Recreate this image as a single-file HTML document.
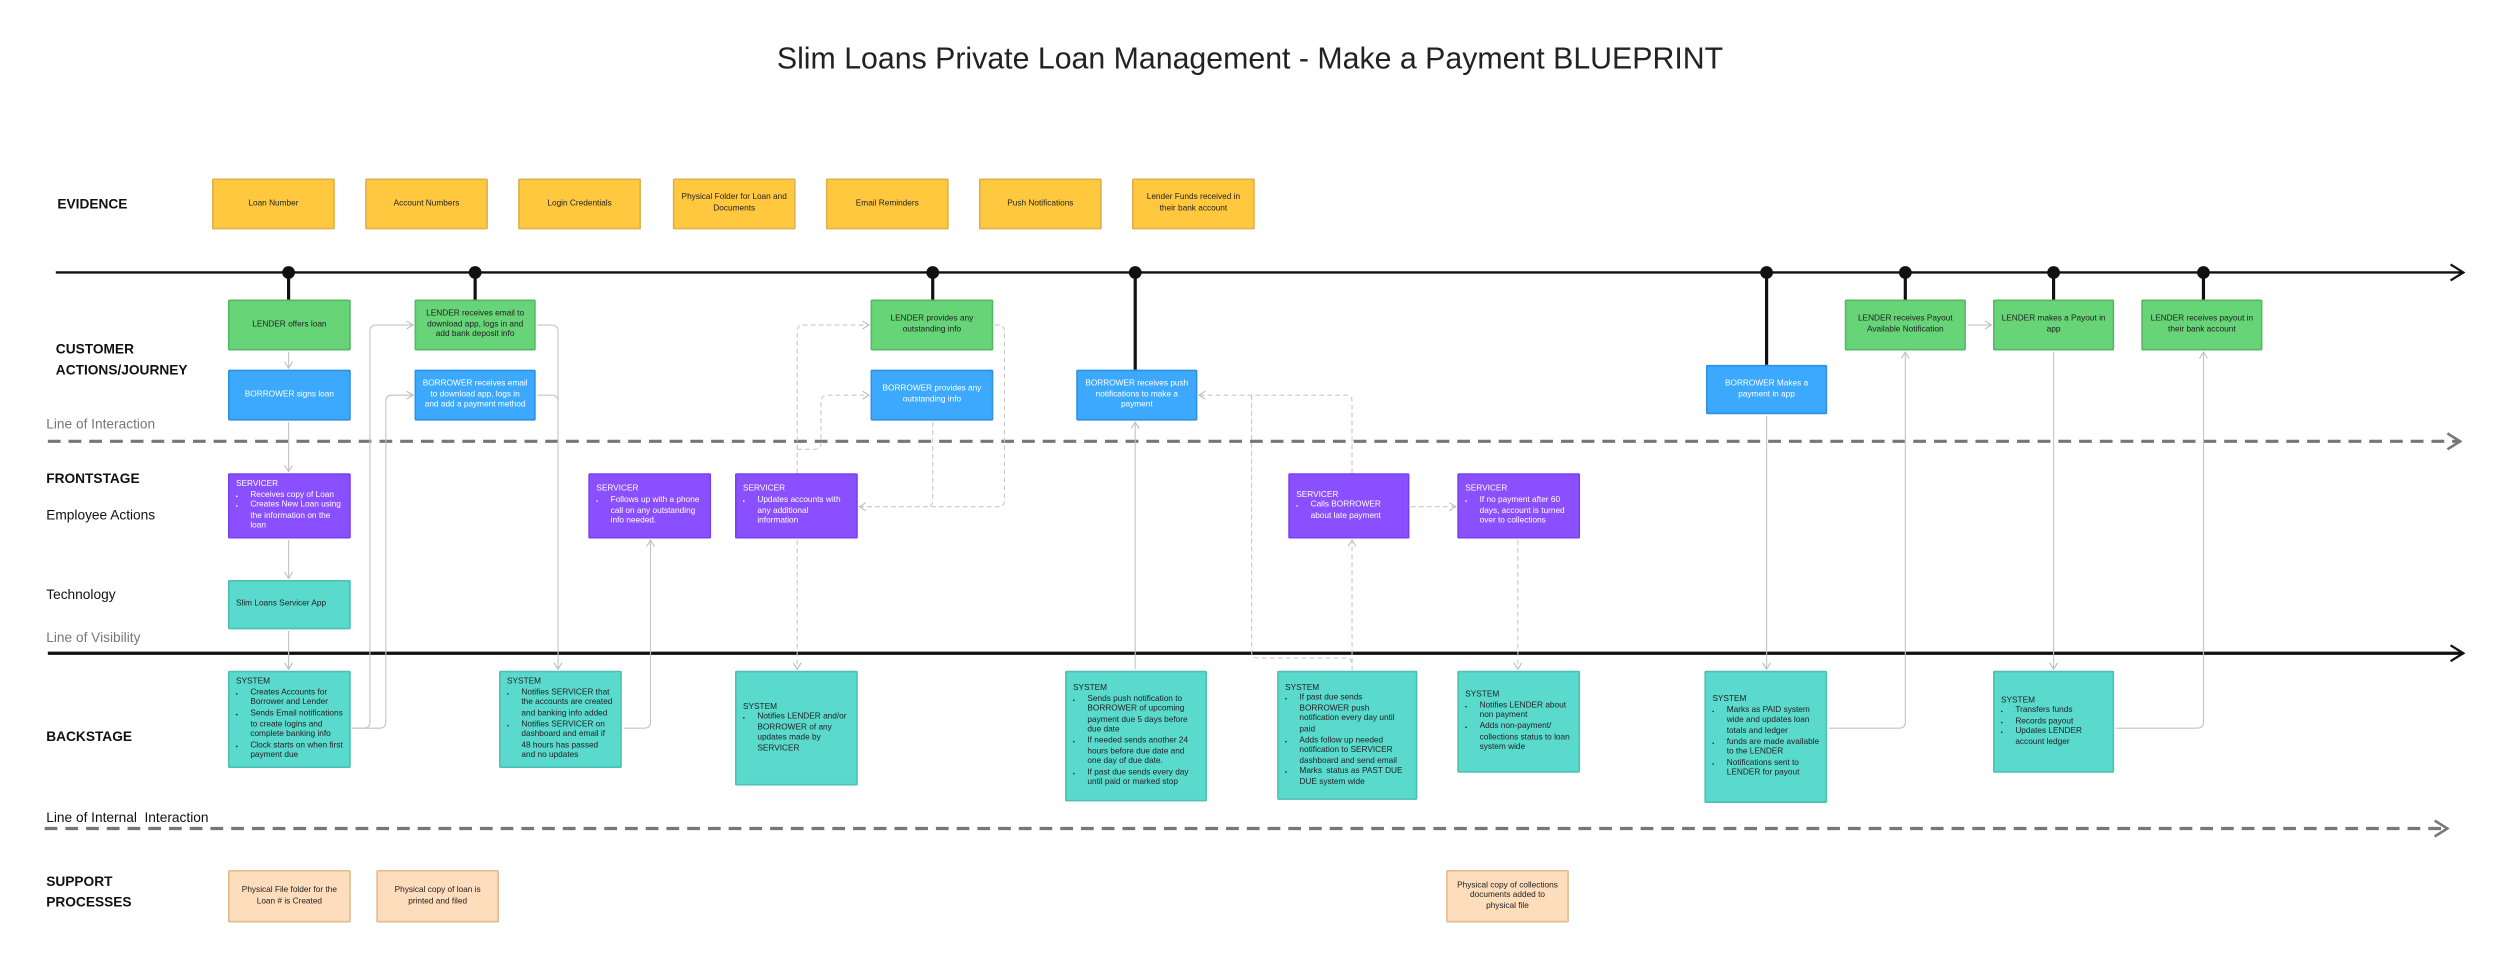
<!DOCTYPE html>
<html><head><meta charset="utf-8"><style>
html,body{margin:0;padding:0;background:#fff;}
body{width:2500px;height:956px;overflow:hidden;position:relative;font-family:"Liberation Sans",sans-serif;}
#w{position:absolute;left:0;top:0;width:1568px;height:600px;transform:scale(1.5944,1.5933);transform-origin:0 0;}
svg{position:absolute;left:0;top:0;}
.b{position:absolute;box-sizing:border-box;display:flex;align-items:center;justify-content:center;text-align:center;font-size:5.2px;line-height:6.6px;padding:2px 4px;border-radius:1px;color:#222;}
.y{background:#FFC83F;border:0.6px solid #ddb04a;}
.g{background:#66D477;border:0.6px solid #55b865;}
.bl{background:#3CA9FF;border:0.6px solid #3090e0;color:#fff;}
.p{background:#8A4FFF;border:0.6px solid #7a40ee;color:#fff;justify-content:flex-start;text-align:left;}
.t{background:#5AD9CD;border:0.6px solid #4cc0b4;justify-content:flex-start;text-align:left;}
.o{background:#FDDDBC;border:0.6px solid #e2bb90;}
.b ul{margin:0;padding-left:9px;}
.b .in{display:block;}
.l{position:absolute;font-size:8.6px;color:#111;white-space:nowrap;}
.lb{font-weight:bold;}
.lg{color:#777;}
</style></head><body><div id="w">
<div class="l" style="left:0;width:1568px;top:27px;text-align:center;font-size:19px;color:#222;">Slim Loans Private Loan Management - Make a Payment BLUEPRINT</div>

<div class="l lb" style="left:36px;top:123px;">EVIDENCE</div>
<div class="l lb" style="left:35px;top:213px;line-height:13px;">CUSTOMER<br>ACTIONS/JOURNEY</div>
<div class="l lg" style="left:29px;top:261px;">Line of Interaction</div>
<div class="l lb" style="left:29px;top:295px;">FRONTSTAGE</div>
<div class="l" style="left:29px;top:318px;">Employee Actions</div>
<div class="l" style="left:29px;top:368px;">Technology</div>
<div class="l lg" style="left:29px;top:395px;">Line of Visibility</div>
<div class="l lb" style="left:29px;top:457px;">BACKSTAGE</div>
<div class="l" style="left:29px;top:508px;">Line of Internal&nbsp; Interaction</div>
<div class="l lb" style="left:29px;top:547px;line-height:13px;">SUPPORT<br>PROCESSES</div>

<svg width="1568" height="600" viewBox="0 0 1568 600">
<defs>
<marker id="a" markerWidth="6" markerHeight="6" refX="5" refY="3" orient="auto" markerUnits="userSpaceOnUse"><path d="M1 0.5 L5 3 L1 5.5" fill="none" stroke="#bdbdbd" stroke-width="0.7"/></marker>
<marker id="k" markerWidth="12" markerHeight="12" refX="10" refY="6" orient="auto" markerUnits="userSpaceOnUse"><path d="M2 1 L10 6 L2 11" fill="none" stroke="#111" stroke-width="1.4"/></marker>
<marker id="d" markerWidth="12" markerHeight="12" refX="10" refY="6" orient="auto" markerUnits="userSpaceOnUse"><path d="M2 1 L10 6 L2 11" fill="none" stroke="#777" stroke-width="1.6"/></marker>
</defs>
<line x1="35" y1="171" x2="1545" y2="171" stroke="#111" stroke-width="1.5" marker-end="url(#k)"/>
<line x1="30" y1="410" x2="1545" y2="410" stroke="#111" stroke-width="2" marker-end="url(#k)"/>
<line x1="30" y1="277" x2="1543" y2="277" stroke="#777" stroke-width="2" stroke-dasharray="8 5" marker-end="url(#d)"/>
<line x1="28" y1="520" x2="1535" y2="520" stroke="#777" stroke-width="2" stroke-dasharray="8 5" marker-end="url(#d)"/>
<g stroke="#111" stroke-width="2">
<line x1="181" y1="171" x2="181" y2="188"/><line x1="298" y1="171" x2="298" y2="188"/>
<line x1="585" y1="171" x2="585" y2="188"/><line x1="712" y1="171" x2="712" y2="232"/>
<line x1="1108" y1="171" x2="1108" y2="229"/><line x1="1195" y1="171" x2="1195" y2="188"/>
<line x1="1288" y1="171" x2="1288" y2="188"/><line x1="1382" y1="171" x2="1382" y2="188"/>
</g>
<g fill="#111">
<circle cx="181" cy="171" r="4"/><circle cx="298" cy="171" r="4"/><circle cx="585" cy="171" r="4"/><circle cx="712" cy="171" r="4"/>
<circle cx="1108" cy="171" r="4"/><circle cx="1195" cy="171" r="4"/><circle cx="1288" cy="171" r="4"/><circle cx="1382" cy="171" r="4"/>
</g>
<g fill="none" stroke="#c4c4c4" stroke-width="0.7">
<path d="M181 221 V231" marker-end="url(#a)"/>
<path d="M181 265 V296" marker-end="url(#a)"/>
<path d="M181 339 V363" marker-end="url(#a)"/>
<path d="M181 396 V420" marker-end="url(#a)"/>
<path d="M221 457 H228 Q232 457 232 453 V208 Q232 204 236 204 H259" marker-end="url(#a)"/>
<path d="M221 457 H238 Q242 457 242 453 V252 Q242 248 246 248 H259" marker-end="url(#a)"/>
<path d="M337 204 H346 Q350 204 350 208 V420" marker-end="url(#a)"/>
<path d="M337 248 H346 Q350 248 350 252"/>
<path d="M391 457 H404 Q408 457 408 453 V339" marker-end="url(#a)"/>
<path d="M712 420 V265" marker-end="url(#a)"/>
<path d="M1108 261 V420" marker-end="url(#a)"/>
<path d="M1147 457 H1191 Q1195 457 1195 453 V221" marker-end="url(#a)"/>
<path d="M1234 204 H1249" marker-end="url(#a)"/>
<path d="M1288 221 V420" marker-end="url(#a)"/>
<path d="M1327 457 H1378 Q1382 457 1382 453 V221" marker-end="url(#a)"/>
</g>
<g fill="none" stroke="#c8c8c8" stroke-width="0.7" stroke-dasharray="3 2">
<path d="M500 297 V208 Q500 204 504 204 H545" marker-end="url(#a)"/>
<path d="M500 282 H511 Q515 282 515 278 V252 Q515 248 519 248 H545" marker-end="url(#a)"/>
<path d="M624 204 H626 Q630 204 630 208 V314 Q630 318 626 318 H539" marker-end="url(#a)"/>
<path d="M585 265 V314 Q585 318 581 318"/>
<path d="M500 339 V420" marker-end="url(#a)"/>
<path d="M848 297 V252 Q848 248 844 248 H752" marker-end="url(#a)"/>
<path d="M785 248 V409 Q785 413 789 413 H844 Q848 413 848 417 V421"/>
<path d="M848 421 V339" marker-end="url(#a)"/>
<path d="M885 318 H913" marker-end="url(#a)"/>
<path d="M952 339 V420" marker-end="url(#a)"/>
</g>
</svg>

<!-- evidence -->
<div class="b y" style="left:133px;top:112px;width:77px;height:32px;">Loan Number</div>
<div class="b y" style="left:229px;top:112px;width:77px;height:32px;">Account Numbers</div>
<div class="b y" style="left:325px;top:112px;width:77px;height:32px;">Login Credentials</div>
<div class="b y" style="left:422px;top:112px;width:77px;height:32px;">Physical Folder for Loan and Documents</div>
<div class="b y" style="left:518px;top:112px;width:77px;height:32px;">Email Reminders</div>
<div class="b y" style="left:614px;top:112px;width:77px;height:32px;">Push Notifications</div>
<div class="b y" style="left:710px;top:112px;width:77px;height:32px;">Lender Funds received in their bank account</div>

<!-- green -->
<div class="b g" style="left:143px;top:188px;width:77px;height:32px;">LENDER offers loan</div>
<div class="b g" style="left:260px;top:188px;width:76px;height:32px;">LENDER receives email to download app, logs in and add bank deposit info</div>
<div class="b g" style="left:546px;top:188px;width:77px;height:32px;">LENDER provides any outstanding info</div>
<div class="b g" style="left:1157px;top:188px;width:76px;height:32px;">LENDER receives Payout Available Notification</div>
<div class="b g" style="left:1250px;top:188px;width:76px;height:32px;">LENDER makes a Payout in app</div>
<div class="b g" style="left:1343px;top:188px;width:76px;height:32px;">LENDER receives payout in their bank account</div>

<!-- blue -->
<div class="b bl" style="left:143px;top:232px;width:77px;height:32px;">BORROWER signs loan</div>
<div class="b bl" style="left:260px;top:232px;width:76px;height:32px;">BORROWER receives email to download app, logs in and add a payment method</div>
<div class="b bl" style="left:546px;top:232px;width:77px;height:32px;">BORROWER provides any outstanding info</div>
<div class="b bl" style="left:675px;top:232px;width:76px;height:32px;">BORROWER receives push notifications to make a payment</div>
<div class="b bl" style="left:1070px;top:229px;width:76px;height:31px;">BORROWER Makes a payment in app</div>

<!-- purple -->
<div class="b p" style="left:143px;top:297px;width:77px;height:41px;"><div class="in">SERVICER<ul><li>Receives copy of Loan</li><li>Creates New Loan using the information on the loan</li></ul></div></div>
<div class="b p" style="left:369px;top:297px;width:77px;height:41px;"><div class="in">SERVICER<ul><li>Follows up with a phone call on any outstanding info needed.</li></ul></div></div>
<div class="b p" style="left:461px;top:297px;width:77px;height:41px;"><div class="in">SERVICER<ul><li>Updates accounts with any additional information</li></ul></div></div>
<div class="b p" style="left:808px;top:297px;width:76px;height:41px;"><div class="in">SERVICER<ul><li>Calls BORROWER about late payment</li></ul></div></div>
<div class="b p" style="left:914px;top:297px;width:77px;height:41px;"><div class="in">SERVICER<ul><li>If no payment after 60 days, account is turned over to collections</li></ul></div></div>

<div class="b t" style="left:143px;top:364px;width:77px;height:31px;">Slim Loans Servicer App</div>

<!-- system -->
<div class="b t" style="left:143px;top:421px;width:77px;height:61px;"><div class="in">SYSTEM<ul><li>Creates Accounts for Borrower and Lender</li><li>Sends Email notifications to create logins and complete banking info</li><li>Clock starts on when first payment due</li></ul></div></div>
<div class="b t" style="left:313px;top:421px;width:77px;height:61px;"><div class="in">SYSTEM<ul><li>Notifies SERVICER that the accounts are created and banking info added</li><li>Notifies SERVICER on dashboard and email if 48 hours has passed and no updates</li></ul></div></div>
<div class="b t" style="left:461px;top:421px;width:77px;height:72px;"><div class="in">SYSTEM<ul><li>Notifies LENDER and/or BORROWER of any updates made by SERVICER</li></ul></div></div>
<div class="b t" style="left:668px;top:421px;width:89px;height:82px;"><div class="in">SYSTEM<ul><li>Sends push notification to BORROWER of upcoming payment due 5 days before due date</li><li>If needed sends another 24 hours before due date and one day of due date.</li><li>If past due sends every day until paid or marked stop</li></ul></div></div>
<div class="b t" style="left:801px;top:421px;width:88px;height:81px;"><div class="in">SYSTEM<ul><li>If past due sends BORROWER push notification every day until paid</li><li>Adds follow up needed notification to SERVICER dashboard and send email</li><li>Marks&nbsp; status as PAST DUE DUE system wide</li></ul></div></div>
<div class="b t" style="left:914px;top:421px;width:77px;height:64px;"><div class="in">SYSTEM<ul><li>Notifies LENDER about non payment</li><li>Adds non-payment/ collections status to loan system wide</li></ul></div></div>
<div class="b t" style="left:1069px;top:421px;width:77px;height:83px;"><div class="in">SYSTEM<ul><li>Marks as PAID system wide and updates loan totals and ledger</li><li>funds are made available to the LENDER</li><li>Notifications sent to LENDER for payout</li></ul></div></div>
<div class="b t" style="left:1250px;top:421px;width:76px;height:64px;"><div class="in">SYSTEM<ul><li>Transfers funds</li><li>Records payout</li><li>Updates LENDER account ledger</li></ul></div></div>

<!-- support -->
<div class="b o" style="left:143px;top:546px;width:77px;height:33px;">Physical File folder for the Loan # is Created</div>
<div class="b o" style="left:236px;top:546px;width:77px;height:33px;">Physical copy of loan is printed and filed</div>
<div class="b o" style="left:907px;top:546px;width:77px;height:33px;">Physical copy of collections documents added to physical file</div>
</div></body></html>
